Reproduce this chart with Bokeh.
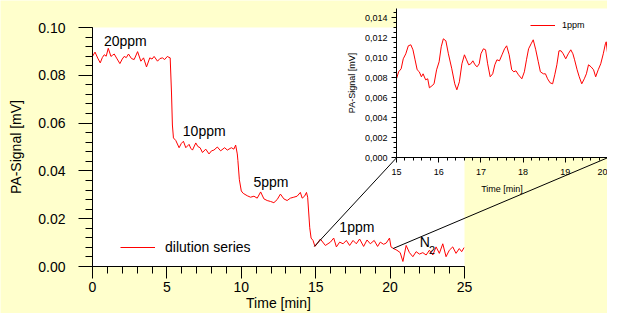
from bokeh.plotting import figure
from bokeh.models import (Range1d, LinearAxis, FixedTicker, BoxAnnotation, Label,
                          Legend, LegendItem, CustomJSTickFormatter)
from bokeh.embed import file_html
from bokeh.resources import INLINE

# ---------------- data ----------------
main_time = [0.00, 0.17, 0.35, 0.52, 0.66, 0.79, 0.92, 1.06, 1.24, 1.35,
             1.46, 1.62, 1.84, 2.00, 2.13, 2.27, 2.42, 2.62, 2.80, 3.03,
             3.25, 3.43, 3.63, 3.85, 4.00, 4.14, 4.37, 4.53, 4.70, 4.85,
             5.03, 5.14, 5.22,
             5.31, 5.37, 5.44, 5.60, 5.82, 5.97, 6.11, 6.27, 6.49, 6.60,
             6.72, 6.94, 7.08, 7.23, 7.39, 7.61, 7.83, 8.00, 8.16, 8.39,
             8.61, 8.88, 9.06, 9.33, 9.50, 9.62, 9.73,
             9.77, 9.87, 10.00, 10.13, 10.40, 10.62, 10.85, 11.07, 11.30, 11.52,
             11.74, 11.97, 12.19, 12.41, 12.63, 12.86, 13.08, 13.30, 13.53, 13.75,
             13.97, 14.09, 14.25, 14.38, 14.46,
             14.60, 14.69, 14.82, 14.95, 15.13, 15.31, 15.65, 15.99, 16.21, 16.39, 16.61,
             16.84, 17.06, 17.28, 17.51, 17.73, 17.95, 18.22, 18.45, 18.67, 18.93,
             19.16, 19.34, 19.56, 19.74, 19.96, 20.06,
             20.23, 20.46, 20.68, 20.86, 21.08, 21.30, 21.53, 21.75, 21.97, 22.20,
             22.42, 22.64, 22.87, 23.09, 23.31, 23.54, 23.76, 23.98, 24.21, 24.43,
             24.65, 24.81, 24.97]
main_signal = [0.0879, 0.0897, 0.0872, 0.0852, 0.0874, 0.0886, 0.0880, 0.0913, 0.0879, 0.0884,
               0.0889, 0.0872, 0.0849, 0.0868, 0.0879, 0.0874, 0.0889, 0.0870, 0.0866, 0.0899,
               0.0859, 0.0873, 0.0835, 0.0873, 0.0868, 0.0879, 0.0859, 0.0870, 0.0873, 0.0866,
               0.0879, 0.0875, 0.0873,
               0.0726, 0.0592, 0.0538, 0.0527, 0.0497, 0.0515, 0.0524, 0.0497, 0.0511, 0.0495,
               0.0487, 0.0517, 0.0502, 0.0497, 0.0477, 0.0491, 0.0471, 0.0484, 0.0487, 0.0500,
               0.0484, 0.0497, 0.0487, 0.0497, 0.0491, 0.0508, 0.0471,
               0.0444, 0.0363, 0.0316, 0.0306, 0.0296, 0.0290, 0.0294, 0.0286, 0.0312, 0.0283,
               0.0276, 0.0272, 0.0267, 0.0280, 0.0303, 0.0283, 0.0276, 0.0286, 0.0290, 0.0294,
               0.0310, 0.0286, 0.0294, 0.0310, 0.0290,
               0.0162, 0.0119, 0.0109, 0.0084, 0.0098, 0.0115, 0.0088, 0.0102, 0.0119, 0.0082, 0.0102,
               0.0095, 0.0109, 0.0088, 0.0109, 0.0095, 0.0115, 0.0084, 0.0111, 0.0095, 0.0109,
               0.0084, 0.0102, 0.0093, 0.0098, 0.0119, 0.0082,
               0.0075, 0.0068, 0.0058, 0.0021, 0.0088, 0.0058, 0.0041, 0.0062, 0.0052, 0.0058,
               0.0048, 0.0068, 0.0048, 0.0082, 0.0055, 0.0095, 0.0041, 0.0068, 0.0082, 0.0055,
               0.0075, 0.0062, 0.0079]

inset_time = [15.00, 15.05, 15.11, 15.16, 15.22, 15.28, 15.34, 15.39, 15.44, 15.49,
              15.54, 15.59, 15.63, 15.69, 15.74, 15.78, 15.84, 15.89, 15.95, 16.01,
              16.06, 16.11, 16.17, 16.23, 16.31, 16.38, 16.43, 16.49, 16.55, 16.61,
              16.66, 16.71, 16.76, 16.81, 16.86, 16.91, 16.96, 17.00, 17.06, 17.11,
              17.16, 17.22, 17.28, 17.33, 17.38, 17.44, 17.50, 17.56, 17.61, 17.67,
              17.73, 17.78, 17.83, 17.89, 17.97, 18.03, 18.08, 18.13, 18.19, 18.24,
              18.30, 18.36, 18.41, 18.48, 18.53, 18.58, 18.64, 18.70, 18.75, 18.80,
              18.85, 18.90, 18.95, 19.01, 19.07, 19.13, 19.18, 19.22, 19.28, 19.33,
              19.39, 19.45, 19.50, 19.55, 19.61, 19.67, 19.72, 19.78, 19.84, 19.90,
              19.95, 19.97, 20.00]
inset_signal = [0.0079, 0.0086, 0.0089, 0.0099, 0.0104, 0.0112, 0.0113, 0.0108, 0.0098, 0.0088,
                0.0086, 0.0081, 0.0084, 0.0078, 0.0079, 0.0070, 0.0072, 0.0074, 0.0088, 0.0096,
                0.0111, 0.0119, 0.0117, 0.0104, 0.0089, 0.0074, 0.0068, 0.0076, 0.0094, 0.0103,
                0.0098, 0.0093, 0.0094, 0.0097, 0.0093, 0.0091, 0.0094, 0.0104, 0.0109, 0.0108,
                0.0094, 0.0081, 0.0084, 0.0093, 0.0098, 0.0097, 0.0103, 0.0109, 0.0112, 0.0103,
                0.0088, 0.0086, 0.0087, 0.0083, 0.0079, 0.0086, 0.0098, 0.0109, 0.0114, 0.0118,
                0.0108, 0.0096, 0.0086, 0.0084, 0.0084, 0.0079, 0.0075, 0.0074, 0.0083, 0.0093,
                0.0107, 0.0107, 0.0104, 0.0099, 0.0104, 0.0108, 0.0104, 0.0098, 0.0088, 0.0081,
                0.0074, 0.0079, 0.0084, 0.0093, 0.0091, 0.0088, 0.0081, 0.0088, 0.0094, 0.0104,
                0.0114, 0.0116, 0.0105]

main_x_ticks = [0, 5, 10, 15, 20, 25]
main_y_ticks = [0.00, 0.02, 0.04, 0.06, 0.08, 0.10]
inset_x_ticks = [15, 16, 17, 18, 19, 20]
inset_y_ticks = [0.000, 0.002, 0.004, 0.006, 0.008, 0.010, 0.012, 0.014]

step_labels = ["20ppm", "10ppm", "5ppm", "1ppm"]
step_label_time = [0.77, 6.07, 10.82, 16.59]
step_label_signal = [0.0943, 0.0569, 0.0355, 0.0166]

zoom_from_time = [14.91, 20.2]     # where the zoom lines leave the main curve
zoom_from_signal = [0.0084, 0.0075]
zoom_to_time = [15, 20]            # inset corners (inset coordinates)
zoom_to_signal = [0.0, 0.0]

# ---------------- layout (figure pixels; frame = whole figure) ----------------
W, H = 607, 313
YELLOW = "#FFFFCC"
FONT = "Liberation Sans"

# pixel anchors
MX0, MX1 = 92, 464        # main x = 0, 25
MY0, MY1 = 266, 27        # main y = 0, 0.10
IX0, IX1 = 396, 607       # inset x = 15, 20
IY0, IY1 = 157.3, 17.3    # inset y = 0, 0.014
INSET_TOP = 8

def make_range(p0, v0, p1, v1, lo, hi):
    s = (v1 - v0) / (p1 - p0)
    return v0 + (lo - p0) * s, v0 + (hi - p0) * s

mx = make_range(MX0, 0, MX1, 25, 0, W)
my = make_range(MY0, 0, MY1, 0.10, H, 0)
ix = make_range(IX0, 15, IX1, 20, 0, W)
iy = make_range(IY0, 0, IY1, 0.014, H, 0)
inset_top_val = (IY0 - INSET_TOP) * 0.014 / (IY0 - IY1)

p = figure(width=W, height=H, x_range=Range1d(*mx), y_range=Range1d(*my),
           x_axis_type=None, y_axis_type=None, toolbar_location=None,
           output_backend="svg", title=None,
           min_border_left=0, min_border_right=0, min_border_top=0, min_border_bottom=0,
           background_fill_color=YELLOW, border_fill_color=YELLOW,
           outline_line_color=None)
p.extra_x_ranges = {"ix": Range1d(*ix)}
p.extra_y_ranges = {"iy": Range1d(*iy)}

# white plot areas
p.add_layout(BoxAnnotation(left=0, right=25, bottom=0, top=0.10, fill_color="white",
                           fill_alpha=1, line_color=None, level="underlay"))
p.add_layout(BoxAnnotation(left=15, right=20, bottom=0, top=inset_top_val, x_range_name="ix",
                           y_range_name="iy", fill_color="white", fill_alpha=1,
                           line_color=None, level="underlay"))

main_r = p.line(main_time, main_signal, line_color="#FF0000", line_width=1)
inset_r = p.line(inset_time, inset_signal, line_color="#FF0000", line_width=1,
                 x_range_name="ix", y_range_name="iy")

# zoom connector lines: inset coords -> pixels -> main coords
def inset_to_main_x(v):
    px = IX0 + (v - 15) * (IX1 - IX0) / 5.0
    return (px - MX0) * 25.0 / (MX1 - MX0)

def inset_to_main_y(v):
    py = IY0 + v * (IY1 - IY0) / 0.014
    return (MY0 - py) * 0.10 / (MY0 - MY1)

p.segment(x0=zoom_from_time, y0=zoom_from_signal,
          x1=[inset_to_main_x(v) for v in zoom_to_time],
          y1=[inset_to_main_y(v) for v in zoom_to_signal],
          line_color="black", line_width=1)

def style(ax, fs, tout, mout, lstand, astand):
    ax.axis_line_color = "black"
    ax.axis_line_width = 1
    ax.major_tick_line_color = "black"
    ax.minor_tick_line_color = "black"
    ax.major_tick_in = 0
    ax.minor_tick_in = 0
    ax.major_tick_out = tout
    ax.minor_tick_out = mout
    ax.major_label_standoff = lstand
    ax.axis_label_standoff = astand
    ax.major_label_text_font = FONT
    ax.major_label_text_font_size = fs
    ax.major_label_text_color = "black"
    ax.axis_label_text_font = FONT
    ax.axis_label_text_font_size = fs
    ax.axis_label_text_font_style = "normal"
    ax.axis_label_text_color = "black"

ax_mx = LinearAxis(fixed_location=0, bounds=(0, 25),
                   ticker=FixedTicker(ticks=main_x_ticks, minor_ticks=list(range(26))),
                   axis_label="Time [min]")
style(ax_mx, "14px", 12, 7, 3, 0)
p.add_layout(ax_mx, "below")

ax_my = LinearAxis(fixed_location=0, bounds=(0, 0.10),
                   ticker=FixedTicker(ticks=main_y_ticks,
                                      minor_ticks=[i * 0.004 for i in range(26)]),
                   formatter=CustomJSTickFormatter(code="return tick.toFixed(2)"),
                   axis_label="PA-Signal [mV]")
style(ax_my, "14px", 14, 7, 13, 11)
p.add_layout(ax_my, "left")

ax_ix = LinearAxis(x_range_name="ix", y_range_name="iy", fixed_location=0, bounds=(15, 20),
                   ticker=FixedTicker(ticks=inset_x_ticks,
                                      minor_ticks=[15 + 0.2 * i for i in range(26)]),
                   axis_label="Time [min]")
style(ax_ix, "9px", 5, 3, 6, 6)
p.add_layout(ax_ix, "below")

ax_iy = LinearAxis(x_range_name="ix", y_range_name="iy", fixed_location=15,
                   bounds=(0, inset_top_val),
                   ticker=FixedTicker(ticks=inset_y_ticks,
                                      minor_ticks=[i * 0.0005 for i in range(30)]),
                   formatter=CustomJSTickFormatter(code="return tick.toFixed(3).replace('.', ',')"),
                   axis_label="PA-Signal [mV]")
style(ax_iy, "9px", 5, 3, 4, 5)
p.add_layout(ax_iy, "left")

# legends (location = pixels from frame bottom-left)
leg_main = Legend(items=[LegendItem(label="dilution series", renderers=[main_r])],
                  location=(120, 58), background_fill_alpha=0, border_line_color=None,
                  padding=0, margin=0, glyph_width=35, glyph_height=16, label_height=16,
                  label_standoff=10, label_text_font=FONT, label_text_font_size="14px",
                  label_text_color="black")
p.add_layout(leg_main)
leg_inset = Legend(items=[LegendItem(label="1ppm", renderers=[inset_r])],
                   location=(530, 282), background_fill_alpha=0, border_line_color=None,
                   padding=0, margin=0, glyph_width=25, glyph_height=12, label_height=12,
                   label_standoff=7, label_text_font=FONT, label_text_font_size="9px",
                   label_text_color="black")
p.add_layout(leg_inset)

for txt, t, s in zip(step_labels, step_label_time, step_label_signal):
    p.add_layout(Label(x=t, y=s, text=txt, text_font=FONT, text_font_size="14px",
                       text_baseline="middle", text_align="left", text_color="black"))
p.add_layout(Label(x=22.0, y=0.0102, text="N", text_font=FONT, text_font_size="14px",
                   text_baseline="middle", text_align="left", text_color="black"))
p.add_layout(Label(x=22.62, y=0.0068, text="2", text_font=FONT, text_font_size="11px",
                   text_baseline="middle", text_align="left", text_color="black"))

open("out.html", "w").write(file_html(p, INLINE))
